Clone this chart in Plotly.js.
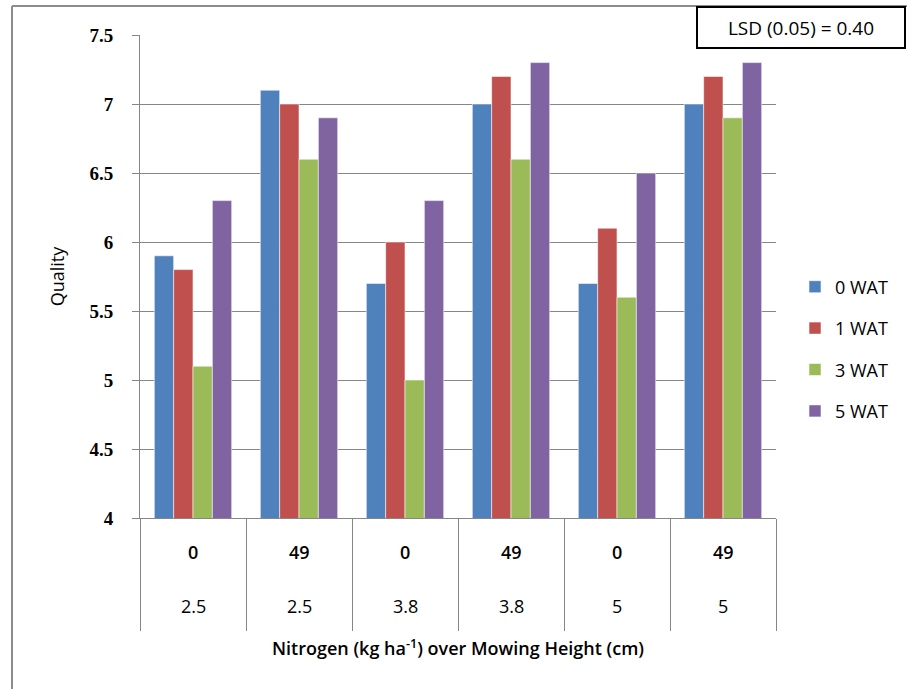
<!DOCTYPE html>
<html>
<head>
<meta charset="utf-8">
<script src="https://cdn.plot.ly/plotly-3.0.1.min.js"></script>
<style>html,body{margin:0;padding:0;background:#fff;}#chart{width:907px;height:689px;}</style>
</head>
<body>
<div id="chart"></div>
<script>
// ---- data ----
var nitrogen = ["0", "49", "0", "49", "0", "49"];
var mowingHeight = ["2.5", "2.5", "3.8", "3.8", "5", "5"];
var seriesNames = ["0 WAT", "1 WAT", "3 WAT", "5 WAT"];
var wat0 = [5.9, 7.1, 5.7, 7.0, 5.7, 7.0];
var wat1 = [5.8, 7.0, 6.0, 7.2, 6.1, 7.2];
var wat3 = [5.1, 6.6, 5.0, 6.6, 5.6, 6.9];
var wat5 = [6.3, 6.9, 6.3, 7.3, 6.5, 7.3];
var colors = ["#4F81BD", "#C0504D", "#9BBB59", "#8064A2"];
var lsdText = "LSD (0.05) = 0.40";

// ---- layout geometry (pixels) ----
var W = 907, H = 689;
var L = 140, R = 776, T = 35, B = 518;
var pw = R - L, ph = B - T;
function px2x(p) { return (p - L) / pw; }
function px2y(p) { return (B - p) / ph; }

var SANS = "'Open Sans', Lato, sans-serif";
var cats = nitrogen.map(function (n, i) { return "c" + i; });
var allSeries = [wat0, wat1, wat3, wat5];

var traces = allSeries.map(function (vals, k) {
  return {
    type: "bar",
    name: seriesNames[k],
    x: cats,
    y: vals,
    legendgroup: "g" + k,
    marker: { color: colors[k], line: { color: "rgba(255,255,255,0.55)", width: 1 } },
    hoverinfo: "y+name"
  };
});

var annotations = [];
cats.forEach(function (c, i) {
  annotations.push({ x: c, xref: "x", y: 0, yref: "paper", yshift: -34, text: nitrogen[i],
    showarrow: false, font: { family: SANS, size: 18, color: "#000", weight: 600 },
    xanchor: "center", yanchor: "middle" });
  annotations.push({ x: c, xref: "x", y: 0, yref: "paper", yshift: -88, text: mowingHeight[i],
    showarrow: false, font: { family: SANS, size: 18, color: "#000" }, xanchor: "center", yanchor: "middle" });
});
annotations.push({
  x: px2x(801), xref: "paper", y: px2y(27.5), yref: "paper", text: lsdText, showarrow: false,
  xanchor: "center", yanchor: "middle", bgcolor: "#fff", bordercolor: "#000", borderwidth: 2, borderpad: 0,
  width: 206, height: 39, font: { family: SANS, size: 19, color: "#000" }
});

var shapes = [
  // outer chart border (left & top, the rest is cut off)
  { type: "line", xref: "paper", yref: "paper", x0: px2x(12), x1: px2x(12), y0: px2y(6), y1: px2y(H + 5),
    line: { color: "#8c8c8c", width: 2 } },
  { type: "line", xref: "paper", yref: "paper", x0: px2x(12), x1: px2x(W + 5), y0: px2y(6), y1: px2y(6),
    line: { color: "#8c8c8c", width: 2 } }
];

var layout = {
  width: W, height: H,
  margin: { l: L, r: W - R, t: T, b: H - B, pad: 0 },
  paper_bgcolor: "#fff", plot_bgcolor: "#fff",
  bargap: 0.27, bargroupgap: 0,
  barmode: "group",
  showlegend: true,
  legend: {
    x: px2x(795), xanchor: "left", y: px2y(349), yanchor: "middle",
    font: { family: SANS, size: 18, color: "#000" },
    tracegroupgap: 15, bgcolor: "rgba(0,0,0,0)", traceorder: "grouped", itemwidth: 30
  },
  xaxis: {
    type: "category",
    showline: true, linecolor: "#868686", linewidth: 1,
    ticks: "outside", tickson: "boundaries", ticklen: 112, tickcolor: "#868686", tickwidth: 1,
    showticklabels: false, showgrid: false, zeroline: false,
    title: { text: "Nitrogen (kg ha<sup>-1</sup>) over Mowing Height (cm)", standoff: 124,
      font: { family: SANS, size: 18, color: "#000", weight: 600 } },
    automargin: false, fixedrange: true
  },
  yaxis: {
    range: [4, 7.5], dtick: 0.5, tick0: 4,
    showline: true, linecolor: "#868686", linewidth: 1,
    ticks: "outside", ticklen: 7, tickcolor: "#868686",
    showgrid: true, gridcolor: "#868686", gridwidth: 1, zeroline: false,
    tickfont: { family: "'Liberation Serif', 'DejaVu Serif', serif", size: 19, color: "#000", weight: 700 },
    ticklabelstandoff: 15,
    title: { text: "Quality", standoff: 20,
      font: { family: SANS, size: 18, color: "#000" } },
    automargin: false, fixedrange: true
  },
  annotations: annotations,
  shapes: shapes
};

Plotly.newPlot("chart", traces, layout, { displayModeBar: false, staticPlot: true });
</script>
</body>
</html>
